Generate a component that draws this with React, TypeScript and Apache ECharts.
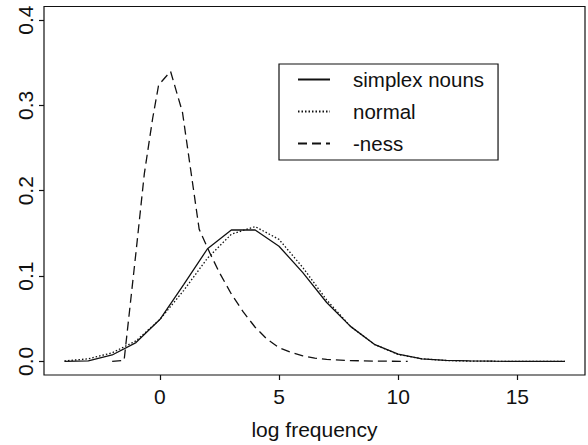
import React, { useEffect, useRef } from "react";
import * as echarts from "echarts";

// x positions and densities
const simplexX = [-4, -3, -2, -1, 0, 1, 2, 3, 4, 5, 6, 7, 8, 9, 10, 11, 12, 13, 14, 15, 16, 17];
const simplexY = [0.0, 0.0006, 0.0075, 0.022, 0.049, 0.09, 0.132, 0.154, 0.154, 0.135, 0.104, 0.069, 0.041, 0.02, 0.0085, 0.003, 0.0012, 0.0005, 0.0002, 0.0, 0.0, 0.0];

const normalX = [-4, -3, -2, -1, 0, 1, 2, 3, 4, 5, 6, 7, 8, 9, 10, 11, 12, 13, 14, 15, 16, 17];
const normalY = [0.0005, 0.003, 0.01, 0.024, 0.049, 0.083, 0.121, 0.149, 0.158, 0.143, 0.11, 0.072, 0.041, 0.02, 0.008, 0.003, 0.001, 0.0003, 0.0001, 0.0, 0.0, 0.0];

const nessX = [-2.0, -1.5, -1.0, -0.65, -0.3, -0.05, 0.45, 0.95, 1.65, 2.1, 2.5, 3.0, 3.5, 4.0, 4.5, 5.0, 5.5, 6.0, 6.5, 7.0, 8.0, 9.0, 10.4];
const nessY = [0.0, 0.001, 0.128, 0.22, 0.285, 0.324, 0.34, 0.292, 0.155, 0.127, 0.104, 0.079, 0.058, 0.04, 0.026, 0.016, 0.0105, 0.0065, 0.0038, 0.0022, 0.0009, 0.0003, 0.0];

const xTicks = [0, 5, 10, 15];
const yTicks = [0, 0.1, 0.2, 0.3, 0.4];

const seriesNames = ["simplex nouns", "normal", "-ness"];
const xTitle = "log frequency";

const FONT = "'Liberation Sans', Arial, Helvetica, sans-serif";
const INK = "#111";

function pairs(xs: number[], ys: number[]) {
  return xs.map((x, i) => [x, ys[i]]);
}

export default function App() {
  const ref = useRef<HTMLDivElement>(null);
  useEffect(() => {
    if (!ref.current) return;
    const chart = echarts.init(ref.current, undefined, { renderer: "svg" });
    chart.setOption({
      animation: false,
      backgroundColor: "#fff",
      grid: {
        left: 44,
        right: 3,
        top: 6.5,
        bottom: 66,
        show: true,
        borderColor: INK,
        borderWidth: 1.2,
        backgroundColor: "transparent",
      },
      legend: {
        orient: "vertical",
        left: 279,
        top: 64,
        padding: [5, 14, 6, 18],
        borderColor: INK,
        borderWidth: 1.2,
        itemWidth: 32,
        itemHeight: 14,
        itemGap: 11,
        selectedMode: false,
        itemStyle: { color: "transparent", borderColor: "transparent", borderWidth: 0, opacity: 0 },
        textStyle: {
          fontFamily: FONT,
          fontSize: 20.5,
          color: INK,
          lineHeight: 20,
          padding: [0, 0, 0, 18],
        },
        data: seriesNames,
      },
      xAxis: {
        type: "value",
        min: -4.86,
        max: 17.84,
        name: xTitle,
        nameLocation: "middle",
        nameGap: 44,
        nameTextStyle: { fontFamily: FONT, fontSize: 21, color: INK },
        axisLine: { show: false, onZero: false },
        splitLine: { show: false },
        axisTick: {
          show: true,
          inside: false,
          length: 5,
          customValues: xTicks,
          lineStyle: { color: INK, width: 1.2 },
        },
        axisLabel: {
          show: true,
          margin: 11,
          customValues: xTicks,
          fontFamily: FONT,
          fontSize: 21,
          color: INK,
          formatter: (v: number) => String(v),
        },
      },
      yAxis: {
        type: "value",
        min: -0.016,
        max: 0.416,
        axisLine: { show: false, onZero: false },
        splitLine: { show: false },
        axisTick: {
          show: true,
          inside: false,
          length: 5,
          customValues: yTicks,
          lineStyle: { color: INK, width: 1.2 },
        },
        axisLabel: {
          show: true,
          rotate: 90,
          margin: 8,
          customValues: yTicks,
          fontFamily: FONT,
          fontSize: 21,
          color: INK,
          formatter: (v: number) => v.toFixed(1),
        },
      },
      series: [
        {
          name: seriesNames[0],
          type: "line",
          symbol: "none",
          data: pairs(simplexX, simplexY),
          lineStyle: { color: INK, width: 1.3, type: "solid" },
          itemStyle: { color: INK },
        },
        {
          name: seriesNames[1],
          type: "line",
          symbol: "none",
          data: pairs(normalX, normalY),
          lineStyle: { color: INK, width: 1.3, type: [1.5, 2] },
          itemStyle: { color: INK },
        },
        {
          name: seriesNames[2],
          type: "line",
          symbol: "none",
          data: pairs(nessX, nessY),
          lineStyle: { color: INK, width: 1.3, type: [9, 5] },
          itemStyle: { color: INK },
        },
      ],
    });
    return () => chart.dispose();
  }, []);
  return (
    <div
      ref={ref}
      style={{ position: "fixed", left: 0, top: 0, width: 588, height: 445, background: "#fff" }}
    />
  );
}
